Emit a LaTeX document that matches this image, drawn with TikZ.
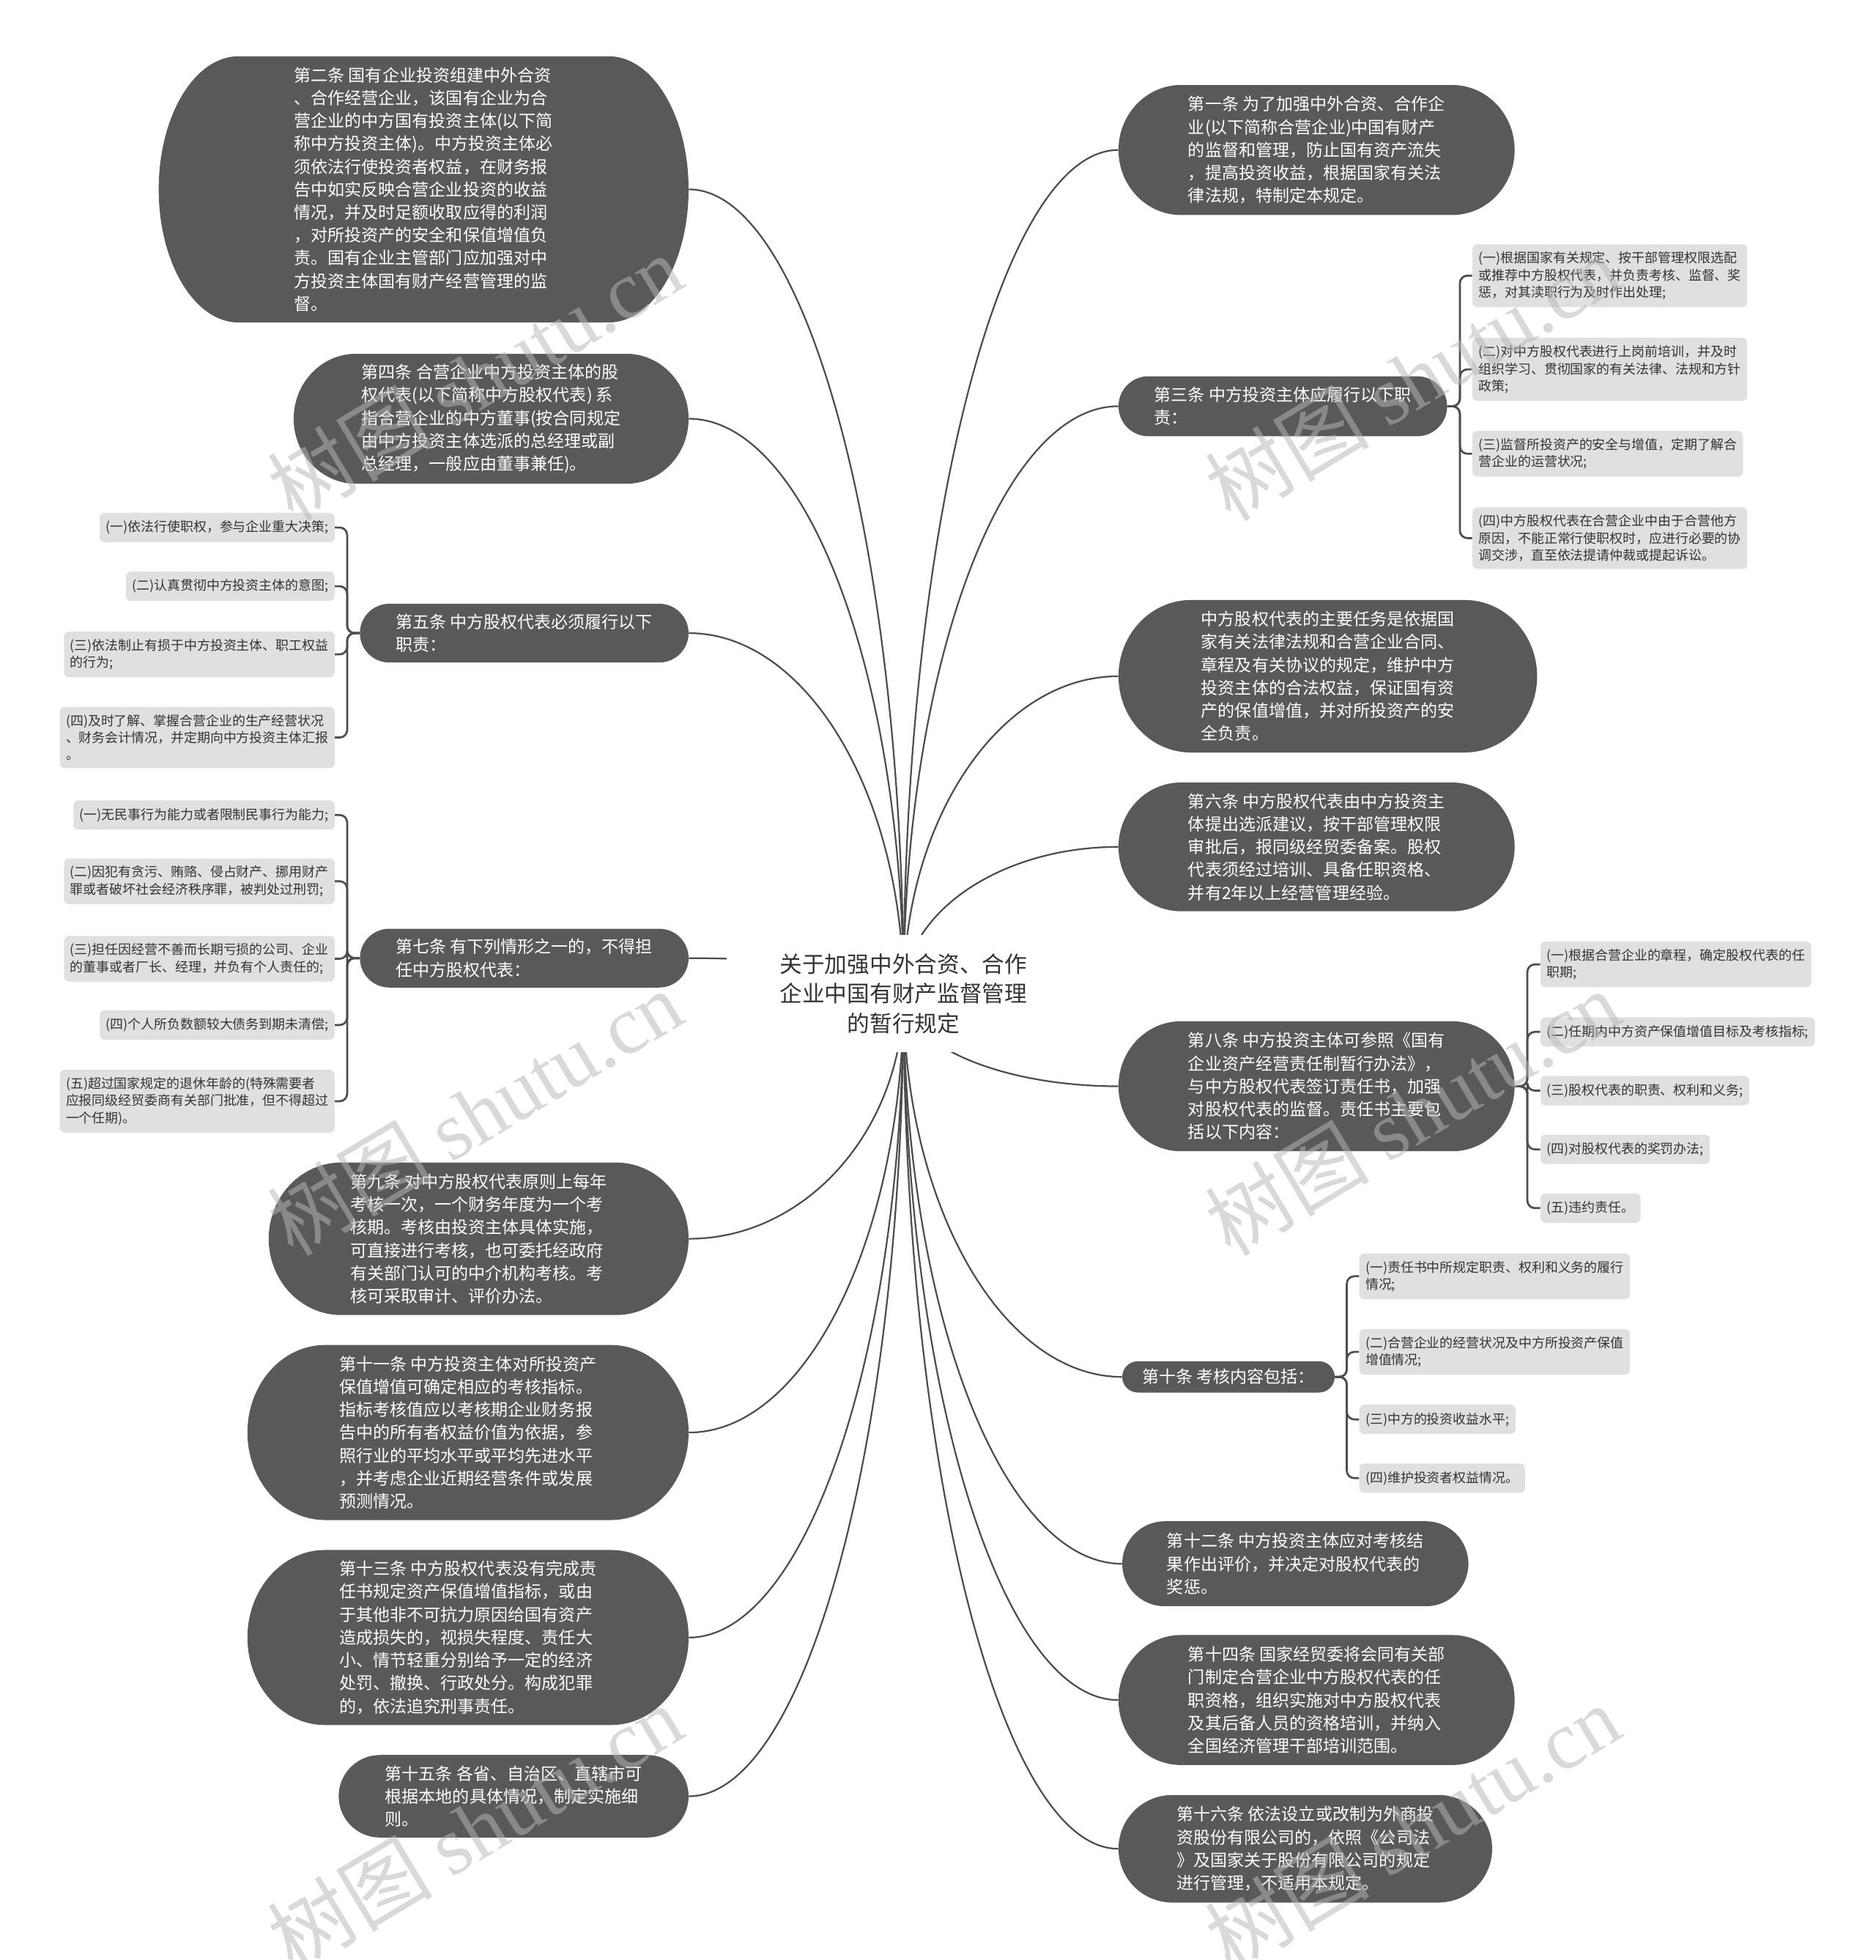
\documentclass[tikz,border=0pt]{standalone}
\usepackage{fontspec}
\setmainfont{Noto Sans CJK SC}
\newfontfamily\wmserif{Liberation Serif}
\usetikzlibrary{calc}
\definecolor{nodegray}{HTML}{595959}
\definecolor{leafgray}{HTML}{E0E0E0}
\definecolor{linegray}{HTML}{4D4D4D}
\definecolor{txtdark}{HTML}{333333}
\definecolor{wmgray}{HTML}{B6B6B6}
\pgfdeclarelayer{bg}
\pgfsetlayers{bg,main}
\tikzset{
 dtext/.style={text=white, align=left, inner sep=0pt, font=\fontsize{13.5}{18.3}\selectfont},
 leaf/.style={fill=leafgray, rounded corners=4pt, text=txtdark, align=left, inner xsep=5pt, inner ysep=6pt, minimum height=23.5pt, font=\fontsize{10.5}{13.7}\selectfont},
 rootnode/.style={fill=white, text=txtdark, align=center, minimum width=283pt, minimum height=94pt, font=\fontsize{18}{24}\selectfont},
 branch/.style={draw=linegray, line width=1.3pt, to path={.. controls ($(\tikztostart)!0.55!(\tikztostart|-\tikztotarget)$) and ($(\tikztotarget)!0.55!(\tikztostart|-\tikztotarget)$) .. (\tikztotarget)}},
 bracket/.style={draw=linegray, line width=1.6pt, rounded corners=6pt},
 wm/.style={rotate=31, text=wmgray, opacity=0.52, font=\fontsize{66}{70}\selectfont}
}
% name, cx, cy, w, h, rx, text
\newcommand{\dnode}[7]{%
  \fill[nodegray] ({#2-#4/2+#6},{#3-#5/2}) -- ({#2+#4/2-#6},{#3-#5/2})
     arc[start angle=-90, end angle=90, x radius=#6, y radius=#5/2]
     -- ({#2-#4/2+#6},{#3+#5/2})
     arc[start angle=90, end angle=270, x radius=#6, y radius=#5/2] -- cycle;
  \node[dtext, minimum width=#4pt, minimum height=#5pt] (#1) at (#2,#3) {#7};
}
\begin{document}
\begin{tikzpicture}[x=1pt, y=-1pt]
\useasboundingbox (0,0) rectangle (1501,1568);
% root
\node[rootnode] (root) at (723,795) {关于加强中外合资、合作\\企业中国有财产监督管理\\的暂行规定};
% left main nodes
\dnode{n2}{339}{151.5}{424}{213}{64}{第二条 国有企业投资组建中外合资\\、合作经营企业，该国有企业为合\\营企业的中方国有投资主体(以下简\\称中方投资主体)。中方投资主体必\\须依法行使投资者权益，在财务报\\告中如实反映合营企业投资的收益\\情况，并及时足额收取应得的利润\\，对所投资产的安全和保值增值负\\责。国有企业主管部门应加强对中\\方投资主体国有财产经营管理的监\\督。}
\dnode{n4}{393}{335}{316}{104}{50}{第四条 合营企业中方投资主体的股\\权代表(以下简称中方股权代表) 系\\指合营企业的中方董事(按合同规定\\由中方投资主体选派的总经理或副\\总经理，一般应由董事兼任)。}
\dnode{n5}{419.5}{506.5}{263}{47}{23.5}{第五条 中方股权代表必须履行以下\\职责：}
\dnode{n7}{419.5}{766.5}{263}{47}{23.5}{第七条 有下列情形之一的，不得担\\任中方股权代表：}
\dnode{n9}{383}{991}{336}{122}{58}{第九条 对中方股权代表原则上每年\\考核一次，一个财务年度为一个考\\核期。考核由投资主体具体实施，\\可直接进行考核，也可委托经政府\\有关部门认可的中介机构考核。考\\核可采取审计、评价办法。}
\dnode{n11}{374.5}{1146}{353}{140}{62}{第十一条 中方投资主体对所投资产\\保值增值可确定相应的考核指标。\\指标考核值应以考核期企业财务报\\告中的所有者权益价值为依据，参\\照行业的平均水平或平均先进水平\\，并考虑企业近期经营条件或发展\\预测情况。}
\dnode{n13}{374.5}{1310}{353}{140}{62}{第十三条 中方股权代表没有完成责\\任书规定资产保值增值指标，或由\\于其他非不可抗力原因给国有资产\\造成损失的，视损失程度、责任大\\小、情节轻重分别给予一定的经济\\处罚、撤换、行政处分。构成犯罪\\的，依法追究刑事责任。}
\dnode{n15}{411}{1437}{280}{66}{33}{第十五条 各省、自治区、直辖市可\\根据本地的具体情况，制定实施细\\则。}
% right main nodes
\dnode{n1}{1053.5}{120}{317}{104}{50}{第一条 为了加强中外合资、合作企\\业(以下简称合营企业)中国有财产\\的监督和管理，防止国有资产流失\\，提高投资收益，根据国家有关法\\律法规，特制定本规定。}
\dnode{n3}{1026.5}{325}{263}{48}{24}{第三条 中方投资主体应履行以下职\\责：}
\dnode{nT}{1062.5}{541}{335}{122}{58}{中方股权代表的主要任务是依据国\\家有关法律法规和合营企业合同、\\章程及有关协议的规定，维护中方\\投资主体的合法权益，保证国有资\\产的保值增值，并对所投资产的安\\全负责。}
\dnode{n6}{1053.5}{677.5}{317}{103}{50}{第六条 中方股权代表由中方投资主\\体提出选派建议，按干部管理权限\\审批后，报同级经贸委备案。股权\\代表须经过培训、具备任职资格、\\并有2年以上经营管理经验。}
\dnode{n8}{1053.5}{869}{317}{104}{50}{第八条 中方投资主体可参照《国有\\企业资产经营责任制暂行办法》，\\与中方股权代表签订责任书，加强\\对股权代表的监督。责任书主要包\\括以下内容：}
\dnode{n10}{983}{1101.5}{170}{25}{12.5}{第十条 考核内容包括：}
\dnode{n12}{1036.5}{1251}{277}{68}{34}{第十二条 中方投资主体应对考核结\\果作出评价，并决定对股权代表的\\奖惩。}
\dnode{n14}{1053.5}{1360}{317}{104}{50}{第十四条 国家经贸委将会同有关部\\门制定合营企业中方股权代表的任\\职资格，组织实施对中方股权代表\\及其后备人员的资格培训，并纳入\\全国经济管理干部培训范围。}
\dnode{n16}{1044.5}{1479}{299}{86}{43}{第十六条 依法设立或改制为外商投\\资股份有限公司的，依照《公司法\\》及国家关于股份有限公司的规定\\进行管理，不适用本规定。}
% leaves of n5
\node[leaf, anchor=east] (l5a) at (268,422) {(一)依法行使职权，参与企业重大决策;};
\node[leaf, anchor=east] (l5b) at (268,469) {(二)认真贯彻中方投资主体的意图;};
\node[leaf, anchor=east] (l5c) at (268,523.5) {(三)依法制止有损于中方投资主体、职工权益\\的行为;};
\node[leaf, anchor=east] (l5d) at (268,590) {(四)及时了解、掌握合营企业的生产经营状况\\、财务会计情况，并定期向中方投资主体汇报\\。};
% leaves of n7
\node[leaf, anchor=east] (l7a) at (268,652) {(一)无民事行为能力或者限制民事行为能力;};
\node[leaf, anchor=east] (l7b) at (268,705) {(二)因犯有贪污、贿赂、侵占财产、挪用财产\\罪或者破坏社会经济秩序罪，被判处过刑罚;};
\node[leaf, anchor=east] (l7c) at (268,767) {(三)担任因经营不善而长期亏损的公司、企业\\的董事或者厂长、经理，并负有个人责任的;};
\node[leaf, anchor=east] (l7d) at (268,820) {(四)个人所负数额较大债务到期未清偿;};
\node[leaf, anchor=east] (l7e) at (268,881) {(五)超过国家规定的退休年龄的(特殊需要者\\应报同级经贸委商有关部门批准，但不得超过\\一个任期)。};
% leaves of n3
\node[leaf, anchor=west] (r3a) at (1178,220.5) {(一)根据国家有关规定、按干部管理权限选配\\或推荐中方股权代表，并负责考核、监督、奖\\惩，对其渎职行为及时作出处理;};
\node[leaf, anchor=west] (r3b) at (1178,295.5) {(二)对中方股权代表进行上岗前培训，并及时\\组织学习、贯彻国家的有关法律、法规和方针\\政策;};
\node[leaf, anchor=west] (r3c) at (1178,363) {(三)监督所投资产的安全与增值，定期了解合\\营企业的运营状况;};
\node[leaf, anchor=west] (r3d) at (1178,430.5) {(四)中方股权代表在合营企业中由于合营他方\\原因，不能正常行使职权时，应进行必要的协\\调交涉，直至依法提请仲裁或提起诉讼。};
% leaves of n8
\node[leaf, anchor=west] (r8a) at (1232.5,771.5) {(一)根据合营企业的章程，确定股权代表的任\\职期;};
\node[leaf, anchor=west] (r8b) at (1232.5,825.5) {(二)任期内中方资产保值增值目标及考核指标;};
\node[leaf, anchor=west] (r8c) at (1232.5,872.5) {(三)股权代表的职责、权利和义务;};
\node[leaf, anchor=west] (r8d) at (1232.5,919.5) {(四)对股权代表的奖罚办法;};
\node[leaf, anchor=west] (r8e) at (1232.5,966.5) {(五)违约责任。};
% leaves of n10
\node[leaf, anchor=west] (r10a) at (1087.5,1021) {(一)责任书中所规定职责、权利和义务的履行\\情况;};
\node[leaf, anchor=west] (r10b) at (1087.5,1081.5) {(二)合营企业的经营状况及中方所投资产保值\\增值情况;};
\node[leaf, anchor=west] (r10c) at (1087.5,1135.5) {(三)中方的投资收益水平;};
\node[leaf, anchor=west] (r10d) at (1087.5,1182.5) {(四)维护投资者权益情况。};
% connectors
\begin{pgfonlayer}{bg}
\foreach \n in {n2,n4,n5,n7,n9,n11,n13,n15}
  \draw[branch] (root.center) to (\n.east);
\foreach \n in {n1,n3,nT,n6,n8,n10,n12,n14,n16}
  \draw[branch] (root.center) to (\n.west);
\foreach \l in {l5a,l5b,l5c,l5d}
  \draw[bracket] (n5.west) -- ++(-10,0) |- (\l.east);
\foreach \l in {l7a,l7b,l7c,l7d,l7e}
  \draw[bracket] (n7.west) -- ++(-10,0) |- (\l.east);
\foreach \l in {r3a,r3b,r3c,r3d}
  \draw[bracket] (n3.east) -- ++(10,0) |- (\l.west);
\foreach \l in {r8a,r8b,r8c,r8d,r8e}
  \draw[bracket] (n8.east) -- ++(10,0) |- (\l.west);
\foreach \l in {r10a,r10b,r10c,r10d}
  \draw[bracket] (n10.east) -- ++(9.5,0) |- (\l.west);
\end{pgfonlayer}
% watermarks
\node[wm] (w1) at (380,302) {树图 {\wmserif shutu.cn}};
\node[wm] (w2) at (1130,302) {树图 {\wmserif shutu.cn}};
\node[wm] (w3) at (380,890) {树图 {\wmserif shutu.cn}};
\node[wm] (w4) at (1130,890) {树图 {\wmserif shutu.cn}};
\node[wm] (w5) at (380,1462) {树图 {\wmserif shutu.cn}};
\node[wm] (w6) at (1130,1462) {树图 {\wmserif shutu.cn}};
\end{tikzpicture}
\end{document}
